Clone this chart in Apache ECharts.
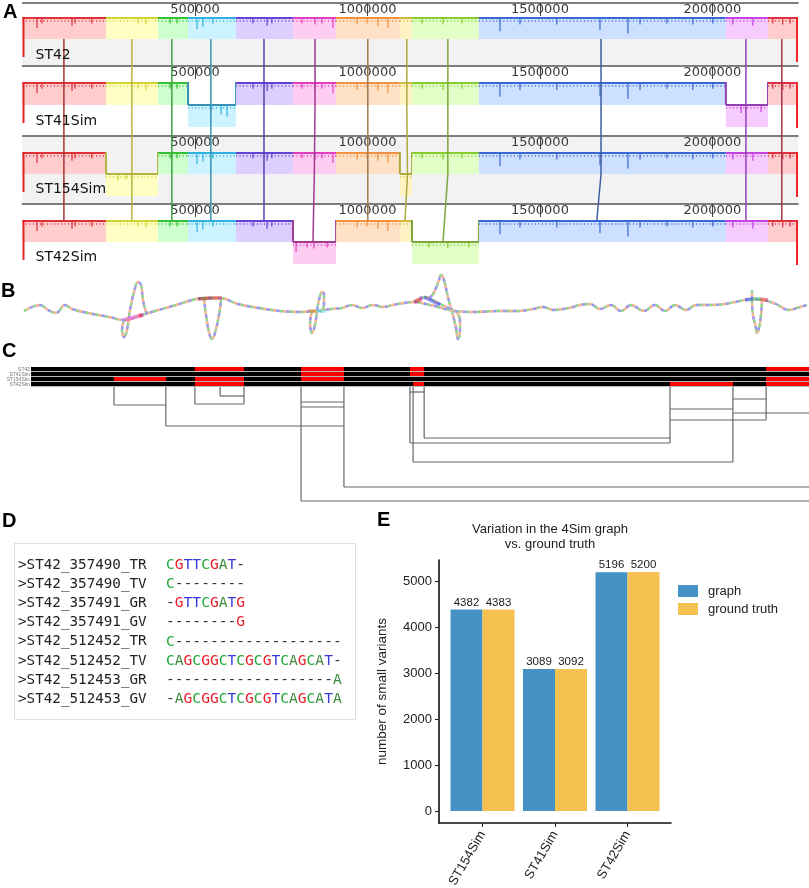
<!DOCTYPE html>
<html>
<head>
<meta charset="utf-8">
<script src="https://cdn.jsdelivr.net/npm/echarts@6.0.0/dist/echarts.min.js"></script>
<style>
html,body{margin:0;padding:0;background:#ffffff;}
#chart{width:809px;height:888px;}
</style>
</head>
<body>
<div id="chart"></div>
<script>
// ================= DATA =================
// ---- Panel A : Mauve-like alignment ----
const genomes = ['ST42', 'ST41Sim', 'ST154Sim', 'ST42Sim'];
const genomeLength = 2248000;
const rulerTicks = [500000, 1000000, 1500000, 2000000];
const blockStart = [0, 242000, 393000, 480000, 619000, 784000, 909000, 1094000, 1129000, 1323000, 2039000, 2161000];
const blockEnd   = [242000, 393000, 480000, 619000, 784000, 909000, 1094000, 1129000, 1323000, 2039000, 2161000, 2248000];
const invertedBlocks = { ST42: [], ST41Sim: [3, 10], ST154Sim: [1, 7], ST42Sim: [5, 8] };
const anchorST42     = [120000, 317000, 433000, 546000, 700000, 848000, 1001000, 1114000, 1233000, 1677000, 2097000, 2201000];
const anchorST41Sim  = [120000, 317000, 433000, 546000, 700000, 848000, 1001000, 1114000, 1233000, 1677000, 2097000, 2201000];
const anchorST154Sim = [120000, 317000, 433000, 546000, 700000, 846000, 1001000, 1116000, 1233000, 1677000, 2097000, 2201000];
const anchorST42Sim  = [120000, 317000, 433000, 546000, 700000, 842000, 1001000, 1109000, 1219000, 1665000, 2097000, 2201000];
const dipPos   = [42000, 56500, 143500, 152000, 201000, 335000, 358000, 428000, 448000, 506000, 523000, 552000, 668000, 709000, 723000, 810000, 848000, 868000, 900000, 970000, 999000, 1030000, 1059000, 1158000, 1219000, 1274000, 1384000, 1442000, 1549000, 1674000, 1755000, 1790000, 1868000, 1943000, 2001000, 2059000, 2117000, 2175000, 2204000, 2225000];
const dipDepth = [0.45, 0.25, 0.35, 0.25, 0.25, 0.25, 0.3, 0.25, 0.25, 0.5, 0.4, 0.25, 0.25, 0.35, 0.25, 0.25, 0.3, 0.25, 0.45, 0.3, 0.25, 0.35, 0.45, 0.25, 0.3, 0.25, 0.6, 0.3, 0.3, 0.55, 0.7, 0.3, 0.25, 0.3, 0.25, 0.3, 0.35, 0.25, 0.3, 0.25];

// ---- Panel B : graph layout (layout units) ----
const bBackboneX = [24,32,40,48,56,65,72,88,109,124,142,155,176,192,204,220,238,259,280,300,316,331,342,352,362,373,383,393,404,414,430,455,476,497,518,533,543,554,569,580,590,600,611,621,631,644,655,665,675,686,696,709,725,740,750,763,776,789,800,807];
const bBackboneY = [311,307,305,310,313,305,309,313,317,320,315,311,305,300,298,298,304,308,311,312,311,309,308,305,308,305,307,305,303,302,305,311,312,311,311,309,307,310,308,305,304,309,305,311,305,311,305,311,305,310,305,305,304,301,299,300,304,310,307,305];
const bLoopX = [124,122,124,127,130,134,138,141,143,146,148, null, 204,206,209,212,215,219,221, null, 312,310,312,315,317,319,322,324,324,320, null, 414,422,430,436,439,441,444,447,450,453,456,458,460,460,456, null, 414,424,440,455, null, 752,752,753,756,757,759,761,762];
const bLoopY = [320,330,337,330,310,292,282,285,300,312,314, null, 298,315,332,339,333,315,300, null, 311,324,333,325,311,300,292,294,305,312, null, 302,298,297,288,280,275,280,293,305,315,328,339,333,320,311, null, 302,297,304,311, null, 290,300,315,328,333,328,315,300];
const bMarkX1 = [124, 139, 198, 212, 308, 316, 414, 424, 745, 753, 760];
const bMarkY1 = [320, 316, 299, 298, 311, 311, 302, 297, 300, 299, 299];
const bMarkX2 = [142, 143, 212, 222, 316, 326, 422, 440, 753, 760, 768];
const bMarkY2 = [315, 315, 298, 298, 311, 311, 299, 305, 299, 299, 300];

// ---- Panel C : variant blocks and tree ----
const cRedRow   = [0, 0, 0, 0, 1, 1, 2, 2, 2, 2, 3, 3, 3, 3];
const cRedStart = [474000, 781000, 1096000, 2126000, 781000, 1096000, 240000, 474000, 781000, 2126000, 474000, 1105000, 1848000, 2126000];
const cRedEnd   = [616000, 905000, 1137000, 2250000, 905000, 1137000, 390000, 616000, 905000, 2250000, 616000, 1137000, 2030000, 2250000];
const treeVPos   = [240000, 390000, 474000, 616000, 547000, 781000, 905000, 1096000, 1137000, 1105000, 1848000, 2030000, 2126000];
const treeVDepth = [18, 39, 17, 17, 9, 114, 100, 56, 51, 75, 56, 75, 33];
const treeHFrom  = [240000, 390000, 474000, 547000, 781000, 781000, 905000, 781000, 1096000, 1137000, 1105000, 1096000, 1848000, 1848000, 2030000, 2030000];
const treeHTo    = [390000, 905000, 616000, 616000, 905000, 905000, 2250000, 2250000, 1848000, 1848000, 2030000, 1137000, 2030000, 2126000, 2126000, 2250000];
const treeHDepth = [18, 39, 17, 9, 15, 20, 100, 114, 56, 51, 75, 5, 22, 33, 12, 26];

// ---- Panel D : alignment text ----
const dNames = ['>ST42_357490_TR', '>ST42_357490_TV', '>ST42_357491_GR', '>ST42_357491_GV', '>ST42_512452_TR', '>ST42_512452_TV', '>ST42_512453_GR', '>ST42_512453_GV'];
const dSeqs  = ['CGTTCGAT-', 'C--------', '-GTTCGATG', '--------G', 'C-------------------', 'CAGCGGCTCGCGTCAGCAT-', '-------------------A', '-AGCGGCTCGCGTCAGCATA'];

// ---- Panel E : bar chart ----
const eCategories = ['ST154Sim', 'ST41Sim', 'ST42Sim'];
const eGraph = [4382, 3089, 5196];
const eTruth = [4383, 3092, 5200];
const eYTicks = [0, 1000, 2000, 3000, 4000, 5000];
const eSeriesNames = ['graph', 'ground truth'];

// ================= LAYOUT & STYLE =================
const LAY = {
  ruler: [3, 66, 136, 204],
  blockTop: [17, 82, 152, 220],
  center: [39, 105, 174, 242],
  half: 22,
  labelY: [55, 121, 189, 257],
  gray: [[39, 65], null, [137, 204], null]
};
const PAL = {
  fill: ['#ffcdcd', '#ffffc4', '#cfffcf', '#ccf3ff', '#dccfff', '#ffcdf2', '#ffe2c6', '#fff3c4', '#e2ffc8', '#cde0ff', '#f6ccff', '#ffcdcd'],
  prof: ['#e0303a', '#d2d232', '#34c034', '#30b0e0', '#6442d2', '#e040c0', '#f09040', '#d6b840', '#84cc32', '#3a68d0', '#c444e0', '#e03040'],
  conn: ['#a83434', '#b4b440', '#40a040', '#3592b4', '#5a40b0', '#a03a92', '#a07a50', '#aaaa3c', '#7ea63e', '#3f5fa0', '#9440b4', '#a83444'],
  bMark: ['#ff50c8', '#e01818', '#a01818', '#e03030', '#e07020', '#40e8e8', '#e01840', '#3040e0', '#3050e8', '#30c060', '#e03030'],
  nuc: { A: '#3d8a3d', C: '#22aa3a', G: '#e8202a', T: '#3a3ad8', '-': '#333333' },
  blue: '#4692c4',
  yellow: '#f5c150'
};
const anchorsByGenome = [anchorST42, anchorST41Sim, anchorST154Sim, anchorST42Sim];
const SANS = 'Liberation Sans, Arial, sans-serif';

// ================= RENDERERS =================
function renderABg(params, api) {
  const t = api.value(0);
  const g = LAY.gray[t];
  if (!g) return { type: 'group', children: [] };
  const p1 = api.coord([0, g[0]]);
  const p2 = api.coord([genomeLength, g[1]]);
  return { type: 'rect', shape: { x: p1[0], y: p1[1], width: p2[0] - p1[0], height: p2[1] - p1[1] }, style: { fill: '#f2f2f2' } };
}

function renderABlock(params, api) {
  const s = api.value(0), e = api.value(1), t = api.value(2), b = api.value(3);
  const inv = invertedBlocks[genomes[t]].indexOf(b) >= 0;
  const x1 = api.coord([s, 0])[0], x2 = api.coord([e, 0])[0];
  const top = api.coord([0, LAY.blockTop[t]])[1];
  const cen = api.coord([0, LAY.center[t]])[1];
  const low = api.coord([0, LAY.center[t] + LAY.half])[1];
  const ch = [];
  if (!inv) {
    ch.push({ type: 'rect', shape: { x: x1, y: top, width: x2 - x1, height: cen - top }, style: { fill: PAL.fill[b] } });
  } else {
    ch.push({ type: 'rect', shape: { x: x1, y: cen, width: x2 - x1, height: low - cen }, style: { fill: PAL.fill[b] } });
  }
  const lineY = inv ? cen : top + 1;
  const lc = inv ? PAL.conn[b] : PAL.prof[b];
  const h = (cen - top);
  for (let k = 0; k < dipPos.length; k++) {
    if (dipPos[k] > s && dipPos[k] < e) {
      const pos = inv ? (s + e - dipPos[k]) : dipPos[k];
      const x = api.coord([pos, 0])[0];
      ch.push({ type: 'line', shape: { x1: x, y1: lineY, x2: x, y2: lineY + dipDepth[k] * h }, style: { stroke: PAL.prof[b], lineWidth: 1.2 } });
    }
  }
  ch.push({ type: 'line', shape: { x1: x1, y1: lineY + 3, x2: x2, y2: lineY + 3 }, style: { stroke: PAL.prof[b], lineWidth: 2, lineDash: [1, 2.5], opacity: 0.75 } });
  ch.push({ type: 'line', shape: { x1: x1, y1: lineY, x2: x2, y2: lineY }, style: { stroke: lc, lineWidth: 2 } });
  if (inv) {
    ch.push({ type: 'line', shape: { x1: x1, y1: top, x2: x1, y2: cen }, style: { stroke: PAL.conn[b], lineWidth: 2 } });
    ch.push({ type: 'line', shape: { x1: x2, y1: top, x2: x2, y2: cen }, style: { stroke: PAL.conn[b], lineWidth: 2 } });
  }
  return { type: 'group', children: ch };
}

function renderAConnector(params, api) {
  const b = api.value(0);
  const pts = [];
  for (let t = 0; t < genomes.length; t++) {
    const inv = invertedBlocks[genomes[t]].indexOf(b) >= 0;
    let yv = LAY.center[t];
    if (t === genomes.length - 1 && !inv) yv = LAY.blockTop[t];
    pts.push(api.coord([anchorsByGenome[t][b], yv]));
  }
  return { type: 'polyline', shape: { points: pts }, style: { stroke: PAL.conn[b], lineWidth: 1.5, fill: null } };
}

function renderADecor(params, api) {
  const t = api.value(0);
  const xl = api.coord([0, 0])[0], xr = api.coord([genomeLength, 0])[0];
  const top = api.coord([0, LAY.blockTop[t]])[1];
  const bot = api.coord([0, LAY.center[t] + 18])[1];
  const ly = api.coord([0, LAY.labelY[t]])[1];
  return { type: 'group', children: [
    { type: 'line', shape: { x1: xl + 1, y1: top, x2: xl + 1, y2: bot }, style: { stroke: '#e02424', lineWidth: 2 } },
    { type: 'line', shape: { x1: xr - 1, y1: top, x2: xr - 1, y2: bot + 5 }, style: { stroke: '#f02424', lineWidth: 2 } },
    { type: 'text', style: { text: genomes[t], x: xl + 13, y: ly, verticalAlign: 'middle', fill: '#111', font: '14px "DejaVu Sans", sans-serif' } }
  ] };
}

function renderCRow(params, api) {
  const r = api.value(1);
  const c = api.coord([0, r]);
  const xr = api.coord([2250000, r])[0];
  const bh = api.size([0, 1])[1];
  return { type: 'group', children: [
    { type: 'rect', shape: { x: c[0], y: c[1] - bh / 2, width: xr - c[0], height: bh }, style: { fill: '#b8b8b8' } },
    { type: 'rect', shape: { x: c[0], y: c[1] - bh / 2, width: xr - c[0], height: bh - 1 }, style: { fill: '#000' } }
  ] };
}

function renderCRed(params, api) {
  const s = api.value(0), e = api.value(1), r = api.value(2);
  const c1 = api.coord([s, r]);
  const x2 = api.coord([e, r])[0];
  const bh = api.size([0, 1])[1];
  return { type: 'rect', shape: { x: c1[0], y: c1[1] - bh / 2, width: x2 - c1[0], height: bh - 1 }, style: { fill: '#ff0000' } };
}

function renderTreeV(params, api) {
  const p1 = api.coord([api.value(0), 0]);
  const p2 = api.coord([api.value(0), api.value(1)]);
  return { type: 'line', shape: { x1: p1[0], y1: p1[1], x2: p2[0], y2: p2[1] }, style: { stroke: '#666', lineWidth: 1.2 } };
}
function renderTreeH(params, api) {
  const p1 = api.coord([api.value(0), api.value(2)]);
  const p2 = api.coord([api.value(1), api.value(2)]);
  return { type: 'line', shape: { x1: p1[0], y1: p1[1], x2: p2[0], y2: p2[1] }, style: { stroke: '#666', lineWidth: 1.2 } };
}

// ================= BUILD DATA FOR SERIES =================
const aBlockData = [];
for (let t = 0; t < genomes.length; t++) {
  for (let b = 0; b < blockStart.length; b++) aBlockData.push([blockStart[b], blockEnd[b], t, b]);
}
const bPath = [];
bBackboneX.forEach((x, i) => bPath.push([x, bBackboneY[i]]));
bPath.push(null);
bLoopX.forEach((x, i) => bPath.push(x === null ? null : [x, bLoopY[i]]));
const bMarks = bMarkX1.map((x, i) => ({ coords: [[x, bMarkY1[i]], [bMarkX2[i], bMarkY2[i]]], lineStyle: { color: PAL.bMark[i], width: i === 0 ? 4 : 3.5 } }));

// ================= CHART =================
const chart = echarts.init(document.getElementById('chart'), null, { renderer: 'canvas' });

const grid = [
  { left: 22.5, right: 11, top: 0, height: 270 },
  { left: 22.5, right: 11, top: LAY.ruler[0], height: 1 },
  { left: 22.5, right: 11, top: LAY.ruler[1], height: 1 },
  { left: 22.5, right: 11, top: LAY.ruler[2], height: 1 },
  { left: 22.5, right: 11, top: LAY.ruler[3], height: 1 },
  { left: 0, right: 0, top: 272, height: 72 },
  { left: 31, right: 0, top: 367, height: 20 },
  { left: 31, right: 0, top: 387, height: 120 },
  { left: 439, right: 138, top: 560, height: 263 }
].map(g => Object.assign({ containLabel: false, outerBoundsMode: 'none' }, g));

const hiddenX = (gi, min, max) => ({ gridIndex: gi, type: 'value', min: min, max: max, show: false });
const hiddenY = (gi, min, max, inv) => ({ gridIndex: gi, type: 'value', min: min, max: max, inverse: !!inv, show: false });

const rulerX = gi => ({
  gridIndex: gi, type: 'value', min: 0, max: genomeLength, position: 'top',
  axisLine: { show: true, onZero: false, lineStyle: { color: '#555', width: 1.5 } },
  axisTick: { show: true, inside: true, length: 13, customValues: rulerTicks, lineStyle: { color: '#444', width: 1 } },
  axisLabel: { show: true, inside: true, margin: 0, customValues: rulerTicks, formatter: v => String(v), fontSize: 13, fontFamily: 'DejaVu Sans', color: '#3a3a3a' },
  splitLine: { show: false }
});

const xAxis = [
  hiddenX(0, 0, genomeLength),
  rulerX(1), rulerX(2), rulerX(3), rulerX(4),
  hiddenX(5, 0, 809),
  hiddenX(6, 0, 2250000),
  hiddenX(7, 0, 2250000),
  {
    gridIndex: 8, type: 'value', min: -0.6, max: 2.6,
    axisLine: { show: true, onZero: false, lineStyle: { color: '#111', width: 1.6 } },
    axisTick: { show: true, customValues: [0, 1, 2], length: 4, lineStyle: { color: '#222', width: 1 } },
    axisLabel: { show: true, customValues: [0, 1, 2], formatter: v => eCategories[Math.round(v)], rotate: 60, fontSize: 13, fontFamily: SANS, color: '#222', margin: 9 },
    splitLine: { show: false }
  }
];

const yAxis = [
  hiddenY(0, 0, 270, true),
  hiddenY(1, 0, 1), hiddenY(2, 0, 1), hiddenY(3, 0, 1), hiddenY(4, 0, 1),
  hiddenY(5, 272, 344, true),
  {
    gridIndex: 6, type: 'category', data: genomes, inverse: true,
    axisLine: { show: false }, axisTick: { show: false },
    axisLabel: { show: true, interval: 0, hideOverlap: false, fontSize: 5, lineHeight: 5, color: '#777', margin: 1, fontFamily: SANS }
  },
  hiddenY(7, 0, 120, true),
  {
    gridIndex: 8, type: 'value', min: -260, max: 5460,
    axisLine: { show: true, onZero: false, lineStyle: { color: '#111', width: 1.6 } },
    axisTick: { show: true, customValues: eYTicks, length: 4, lineStyle: { color: '#222', width: 1 } },
    axisLabel: { show: true, customValues: eYTicks, formatter: v => String(v), fontSize: 13, fontFamily: SANS, color: '#222', margin: 7 },
    splitLine: { show: false },
    name: 'number of small variants', nameLocation: 'middle', nameGap: 50,
    nameTextStyle: { fontSize: 13.5, fontFamily: SANS, color: '#222' }
  }
];

const bLineBase = (color, width, dash, offset, z) => ({
  type: 'line', xAxisIndex: 5, yAxisIndex: 5, data: bPath, smooth: 0.4, connectNulls: false,
  showSymbol: false, symbol: 'none', z: z, silent: true,
  lineStyle: { color: color, width: width, type: dash || 'solid', dashOffset: offset || 0 }
});

const series = [
  { type: 'custom', xAxisIndex: 0, yAxisIndex: 0, data: genomes.map((g, i) => [i, 0]), renderItem: renderABg, z: 0, silent: true },
  { type: 'custom', xAxisIndex: 0, yAxisIndex: 0, data: aBlockData, encode: { x: [0, 1], y: 2 }, renderItem: renderABlock, z: 2, silent: true },
  { type: 'custom', xAxisIndex: 0, yAxisIndex: 0, data: blockStart.map((s, b) => [b, 0]), renderItem: renderAConnector, z: 3, silent: true },
  { type: 'custom', xAxisIndex: 0, yAxisIndex: 0, data: genomes.map((g, i) => [i, 0]), renderItem: renderADecor, z: 4, silent: true },

  bLineBase('#f2a4c8', 2.4, 'solid', 0, 2),
  bLineBase('#86de86', 2.4, [3, 7], 0, 3),
  bLineBase('#8e9cf4', 2.4, [3, 7], 3.5, 3),
  bLineBase('#f3c27a', 2.4, [2, 8], 6, 3),
  { type: 'lines', coordinateSystem: 'cartesian2d', xAxisIndex: 5, yAxisIndex: 5, data: bMarks, z: 4, silent: true },

  { type: 'custom', xAxisIndex: 6, yAxisIndex: 6, data: genomes.map((g, i) => [0, i]), encode: { x: 0, y: 1 }, renderItem: renderCRow, z: 2, silent: true },
  { type: 'custom', xAxisIndex: 6, yAxisIndex: 6, data: cRedStart.map((s, i) => [s, cRedEnd[i], cRedRow[i]]), encode: { x: [0, 1], y: 2 }, renderItem: renderCRed, z: 3, silent: true },
  { type: 'custom', xAxisIndex: 7, yAxisIndex: 7, data: treeVPos.map((p, i) => [p, treeVDepth[i]]), renderItem: renderTreeV, z: 2, silent: true },
  { type: 'custom', xAxisIndex: 7, yAxisIndex: 7, data: treeHFrom.map((p, i) => [p, treeHTo[i], treeHDepth[i]]), encode: { x: [0, 1], y: 2 }, renderItem: renderTreeH, z: 2, silent: true },

  {
    type: 'bar', name: eSeriesNames[0], xAxisIndex: 8, yAxisIndex: 8, barWidth: 32, barGap: '0%',
    data: eGraph.map((v, i) => [i, v]), itemStyle: { color: PAL.blue },
    label: { show: true, position: 'top', distance: 1, fontSize: 11.5, fontFamily: SANS, color: '#1a1a1a', formatter: p => String(p.value[1]) }
  },
  {
    type: 'bar', name: eSeriesNames[1], xAxisIndex: 8, yAxisIndex: 8, barWidth: 32, barGap: '0%',
    data: eTruth.map((v, i) => [i, v]), itemStyle: { color: PAL.yellow },
    label: { show: true, position: 'top', distance: 1, fontSize: 11.5, fontFamily: SANS, color: '#1a1a1a', formatter: p => String(p.value[1]) }
  }
];

// ---- graphic: panel letters, panel D text, panel E title ----
function seqRich(seq) {
  const key = { A: 'a', C: 'c', G: 'g', T: 't', '-': 'd' };
  return seq.split('').map(ch => '{' + key[ch] + '|' + ch + '}').join('');
}
const monoSeq = '14.6px "DejaVu Sans Mono", monospace';
const rich = {
  a: { fill: PAL.nuc.A, font: monoSeq },
  c: { fill: PAL.nuc.C, font: monoSeq },
  g: { fill: PAL.nuc.G, font: monoSeq },
  t: { fill: PAL.nuc.T, font: monoSeq },
  d: { fill: PAL.nuc['-'], font: monoSeq }
};
const graphic = [];
const letter = (txt, x, y) => ({ type: 'text', style: { text: txt, x: x, y: y, fill: '#000', font: 'bold 20px "Liberation Sans", Arial, sans-serif', verticalAlign: 'top' }, z: 100 });
graphic.push(letter('A', 3, 2), letter('B', 1, 281), letter('C', 2, 341), letter('D', 2, 511), letter('E', 377, 510));
graphic.push({ type: 'rect', shape: { x: 14.5, y: 543.5, width: 341, height: 176 }, style: { fill: '#fff', stroke: '#dedede', lineWidth: 1 }, z: 1 });
dNames.forEach((n, i) => {
  const y = 565 + 19.19 * i;
  graphic.push({ type: 'text', style: { text: n, x: 18, y: y, verticalAlign: 'middle', fill: '#222', font: '14.25px "DejaVu Sans Mono", monospace' }, z: 10 });
  graphic.push({ type: 'text', style: { text: seqRich(dSeqs[i]), rich: rich, x: 166, y: y, verticalAlign: 'middle', font: monoSeq }, z: 10 });
});
graphic.push({ type: 'text', style: { text: 'Variation in the 4Sim graph\nvs. ground truth', x: 550, y: 522, align: 'center', verticalAlign: 'top', fill: '#222', font: '13px "Liberation Sans", Arial, sans-serif', lineHeight: 15 }, z: 10 });

chart.setOption({
  animation: false,
  backgroundColor: '#ffffff',
  grid: grid,
  xAxis: xAxis,
  yAxis: yAxis,
  legend: {
    data: eSeriesNames, left: 673, top: 579.5, orient: 'vertical', icon: 'rect',
    itemWidth: 20, itemHeight: 12, itemGap: 5,
    textStyle: { fontSize: 13, fontFamily: SANS, color: '#222', lineHeight: 13, padding: [0, 0, 0, 5] }
  },
  graphic: graphic,
  series: series
});
</script>
</body>
</html>
